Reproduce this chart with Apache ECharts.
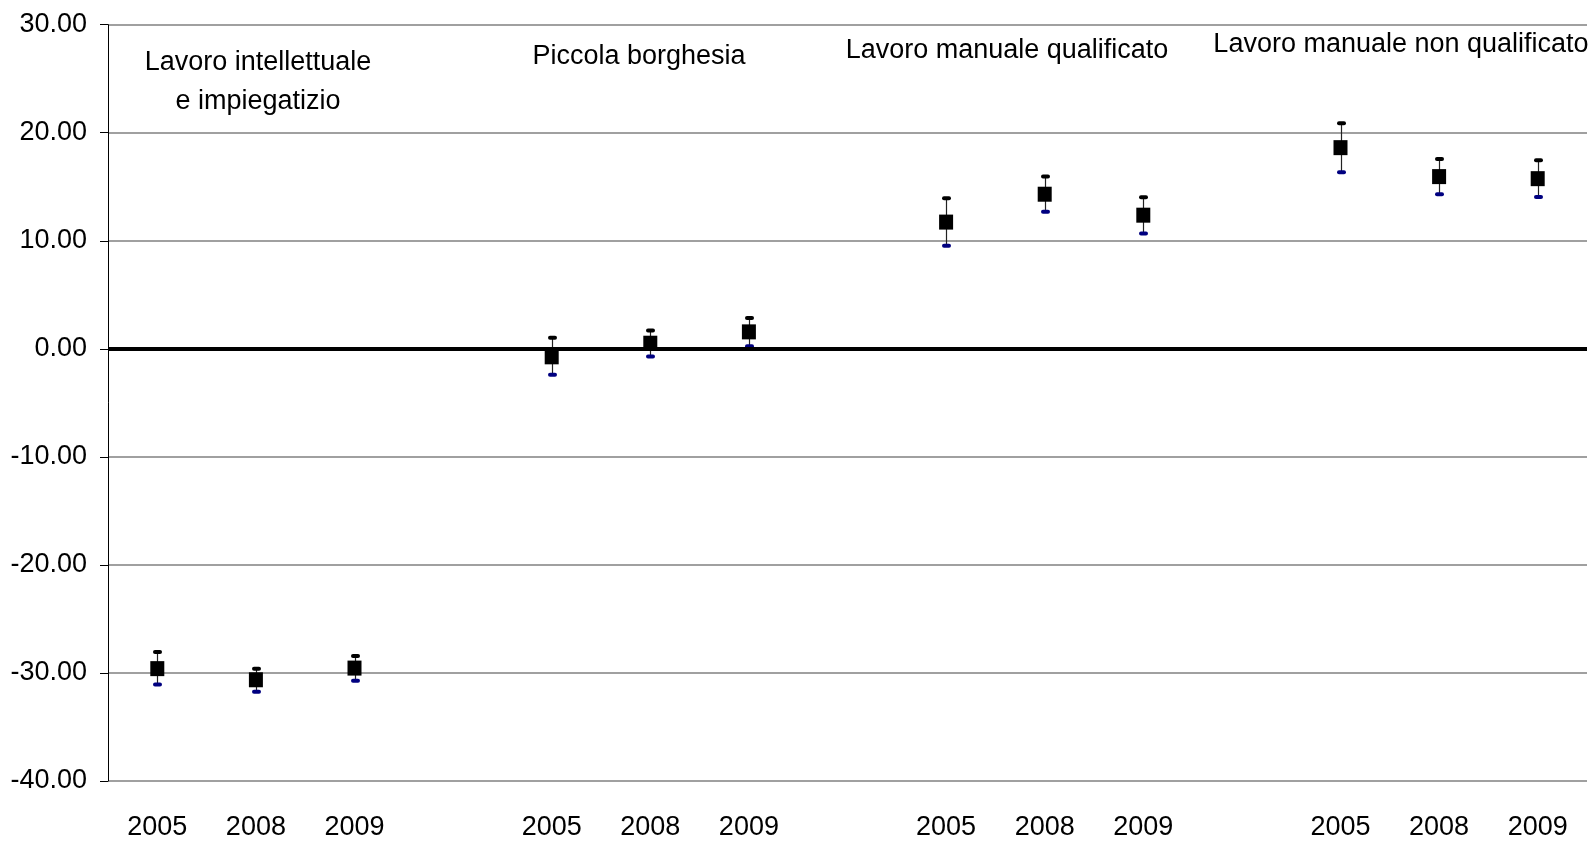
<!DOCTYPE html>
<html>
<head>
<meta charset="utf-8">
<script src="https://cdn.jsdelivr.net/npm/echarts@6/dist/echarts.min.js"></script>
<style>
html,body{margin:0;padding:0;background:#fff;}
#chart{width:1593px;height:841px;}
</style>
</head>
<body>
<div id="chart"></div>
<script>
const categories = ['2005','2008','2009','', '2005','2008','2009','', '2005','2008','2009','', '2005','2008','2009'];
const estimates = [-29.6,-30.63,-29.55,null, -0.74,0.52,1.57,null, 11.73,14.31,12.37,null, 18.62,15.94,15.75];
const upper =     [-28.07,-29.6,-28.44,null, 1.02,1.69,2.86,null, 13.94,15.94,14.03,null, 20.87,17.57,17.45];
const lower =     [-31.06,-31.74,-30.72,null, -2.40,-0.71,0.24,null, 9.54,12.68,10.67,null, 16.34,14.31,14.06];
const groupLabels = ['Lavoro intellettuale\ne impiegatizio','Piccola borghesia','Lavoro manuale qualificato','Lavoro manuale non qualificato'];
const yTicks = {min:-40, max:30, interval:10};

const FONT = '"Liberation Sans", Arial, sans-serif';
const chart = echarts.init(document.getElementById('chart'));

const errData = [];
const ptData = [];
categories.forEach((c,i)=>{
  if (estimates[i] !== null) {
    errData.push([i, lower[i], upper[i]]);
    ptData.push([i, estimates[i]]);
  }
});

const labelPos = [
  {x:258, y:82},
  {x:639, y:57},
  {x:1007, y:51},
  {x:1401, y:45}
];

chart.setOption({
  animation:false,
  backgroundColor:'#fff',
  grid:{left:108, right:6, top:24.7, bottom:58.3, containLabel:false},
  xAxis:{
    type:'category',
    data:categories,
    boundaryGap:true,
    axisLine:{show:false},
    axisTick:{show:false},
    axisLabel:{color:'#000', fontFamily:FONT, fontSize:27, margin:33, interval:0},
    splitLine:{show:false}
  },
  yAxis:{
    type:'value',
    min:yTicks.min, max:yTicks.max, interval:yTicks.interval,
    axisLine:{show:true, lineStyle:{color:'#000', width:1}},
    axisTick:{show:true, length:8, lineStyle:{color:'#000', width:1}},
    axisLabel:{color:'#000', fontFamily:FONT, fontSize:27, margin:21,
      formatter:v=>v.toFixed(2)},
    splitLine:{show:true, lineStyle:{color:'#a0a0a0', width:2}}
  },
  series:[
    {
      type:'custom',
      data:errData,
      z:3,
      renderItem:function(params, api){
        const x = api.value(0);
        const lo = api.coord([x, api.value(1)]);
        const hi = api.coord([x, api.value(2)]);
        const cx = Math.round(lo[0]) + 0.5;
        return {
          type:'group',
          children:[
            {type:'line', shape:{x1:cx, y1:hi[1], x2:cx, y2:lo[1]}, style:{stroke:'#222', lineWidth:1.2}},
            {type:'rect', shape:{x:cx-4.5, y:hi[1]-2, width:9, height:4, r:2}, style:{fill:'#000'}},
            {type:'rect', shape:{x:cx-4.5, y:lo[1]-2, width:9, height:4, r:2}, style:{fill:'#000080'}}
          ]
        };
      }
    },
    {
      type:'scatter',
      data:ptData,
      symbol:'rect',
      symbolSize:[14,15],
      itemStyle:{color:'#000', opacity:1},
      z:4,
      markLine:{
        silent:true,
        symbol:['none','none'],
        label:{show:false},
        lineStyle:{color:'#000', width:4, type:'solid'},
        data:[{yAxis:0}]
      }
    }
  ],
  graphic: groupLabels.map((t,i)=>({
    type:'text',
    x:labelPos[i].x, y:labelPos[i].y,
    style:{text:t, fill:'#000', font:'27px '+FONT, align:'center', verticalAlign:'middle', lineHeight:39},
    z:10
  }))
});
</script>
</body>
</html>
